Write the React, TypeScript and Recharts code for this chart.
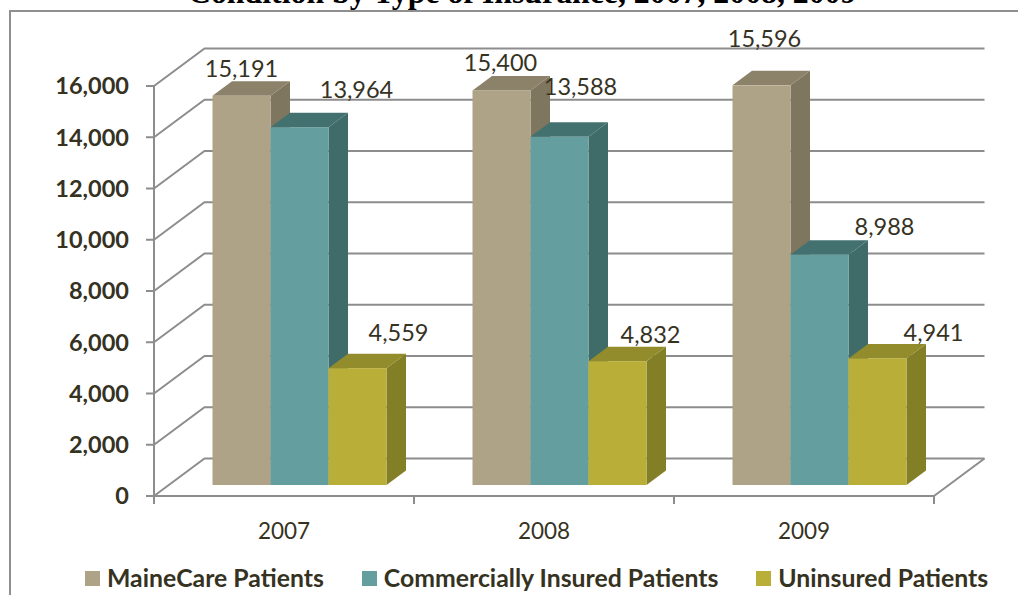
import React from "react";
import { BarChart, Bar, XAxis, YAxis, CartesianGrid, Legend, LabelList } from "recharts";

const years = ["2007", "2008", "2009"];
const maineCare = [15191, 15400, 15596];
const commercial = [13964, 13588, 8988];
const uninsured = [4559, 4832, 4941];
const yTicks = [0, 2000, 4000, 6000, 8000, 10000, 12000, 14000, 16000];

const rows = years.map((year, i) => ({
  year,
  maineCare: maineCare[i],
  commercial: commercial[i],
  uninsured: uninsured[i],
}));

const FONT = "Lato, sans-serif";
const TEXT = "#35321f";
const GRID = "#8d8d8d";
const DEPTH_X = 19.5;
const DEPTH_Y = 14.5;
const FLOOR_DX = 50.5;
const FLOOR_DY = 37.5;
const BAR_SHIFT_X = 15.5;
const BAR_SHIFT_Y = -11;
const BAND = 260;

// label placement relative to each bar's front top-centre
const maineNudge = [[0, -28], [-1, -28], [3, -47]];
const commercialNudge = [[57, -38], [21, -51], [65, -29]];
const uninsuredNudge = [[41, -36], [33, -27], [56, -26]];

const Box3D = (colors: { front: string; side: string; top: string }) => (p: any) => {
  const x = p.x + BAR_SHIFT_X;
  const y = p.y + BAR_SHIFT_Y;
  const w = p.width;
  const b = y + p.height;
  return (
    <g>
      <polygon
        points={`${x + w},${b} ${x + w + DEPTH_X},${b - DEPTH_Y} ${x + w + DEPTH_X},${y - DEPTH_Y} ${x + w},${y}`}
        fill={colors.side}
      />
      <polygon
        points={`${x},${y} ${x + DEPTH_X},${y - DEPTH_Y} ${x + w + DEPTH_X},${y - DEPTH_Y} ${x + w},${y}`}
        fill={colors.top}
      />
      <rect x={x} y={y} width={w} height={p.height} fill={colors.front} />
    </g>
  );
};

const valueLabel = (nudge: number[][]) => (p: any) => {
  const [dx, dy] = nudge[p.index];
  const cx = p.x + p.width / 2 + BAR_SHIFT_X + dx;
  const cy = p.y + BAR_SHIFT_Y + dy;
  return (
    <text x={cx} y={cy} textAnchor="middle" dominantBaseline="central" fontFamily={FONT} fontSize={23.5} fill={TEXT}>
      {Number(p.value).toLocaleString("en-US")}
    </text>
  );
};

const gridLine = (p: any) => {
  const { x1, x2, y1 } = p;
  const isFloor = Math.abs(y1 - 496) < 1;
  const by = y1 - FLOOR_DY;
  return (
    <g key={p.key} stroke={GRID} strokeWidth={2} fill="none">
      <polyline points={`${x1},${y1} ${x1 + FLOOR_DX},${by} ${x2 + FLOOR_DX},${by}`} />
      {isFloor && <line x1={x2 + FLOOR_DX} y1={by} x2={x2} y2={y1} />}
    </g>
  );
};

const XTick = (p: any) => {
  const { x, index, payload } = p;
  const left = x - BAND / 2;
  const top = 496;
  return (
    <g>
      <line x1={left} y1={top} x2={left} y2={top + 8} stroke={GRID} strokeWidth={2} />
      {index === years.length - 1 && (
        <line x1={left + BAND} y1={top} x2={left + BAND} y2={top + 8} stroke={GRID} strokeWidth={2} />
      )}
      <text x={x} y={530} textAnchor="middle" dominantBaseline="central" fontFamily={FONT} fontSize={22.5} fill={TEXT}>
        {payload.value}
      </text>
    </g>
  );
};

const LegendRow = (p: any) => (
  <div
    style={{
      position: "absolute",
      left: 85,
      top: 0,
      display: "flex",
      gap: 38,
      whiteSpace: "nowrap",
      fontFamily: FONT,
      fontWeight: 700,
      fontSize: 24.8,
      lineHeight: "30px",
      color: TEXT,
    }}
  >
    {p.payload.map((item: any) => (
      <div key={item.value} style={{ display: "flex", alignItems: "center", gap: 7 }}>
        <span style={{ width: 15, height: 15, background: item.color, display: "inline-block" }} />
        <span>{item.value}</span>
      </div>
    ))}
  </div>
);

export default function App() {
  return (
    <div style={{ position: "absolute", left: 0, top: 0, width: 1018, height: 595, overflow: "hidden", background: "#fff" }}>
      <div
        style={{
          position: "absolute",
          left: 188,
          top: -22,
          fontFamily: "'Liberation Serif', serif",
          fontWeight: 700,
          fontSize: 31.8,
          lineHeight: "30px",
          color: "#000",
          whiteSpace: "nowrap",
        }}
      >
        Condition by Type of Insurance, 2007, 2008, 2009
      </div>
      <div style={{ position: "absolute", left: 9, top: 10, width: 1009, height: 2, background: "#8f8f8f" }} />
      <div style={{ position: "absolute", left: 9, top: 10, width: 2, height: 585, background: "#8f8f8f" }} />
      <div style={{ position: "absolute", left: 0, top: 0 }}>
        <BarChart
          width={1018}
          height={595}
          data={rows}
          margin={{ top: 86, right: 84, bottom: 59, left: 74 }}
          barCategoryGap={43}
          barGap={0}
        >
          <CartesianGrid horizontal={gridLine} vertical={false} />
          <XAxis
            dataKey="year"
            height={40}
            axisLine={{ stroke: GRID, strokeWidth: 2 }}
            tickLine={false}
            tick={<XTick />}
            interval={0}
          />
          <YAxis
            width={80}
            domain={[0, 16000]}
            ticks={yTicks}
            interval={0}
            axisLine={{ stroke: GRID, strokeWidth: 2 }}
            tickLine={{ stroke: GRID, strokeWidth: 2 }}
            tickSize={8}
            tickMargin={17}
            tickFormatter={(v: number) => v.toLocaleString("en-US")}
            tick={{ fontFamily: FONT, fontWeight: 700, fontSize: 23.5, fill: TEXT }}
          />
          <Legend
            layout="horizontal"
            verticalAlign="middle"
            align="center"
            itemSorter={null}
            wrapperStyle={{ top: 563, left: 0, width: 1018, height: 30 }}
            content={<LegendRow />}
          />
          <Bar
            dataKey="maineCare"
            name="MaineCare Patients"
            fill="#AEA386"
            isAnimationActive={false}
            shape={Box3D({ front: "#AEA386", side: "#7E765F", top: "#8C826A" })}
          >
            <LabelList dataKey="maineCare" content={valueLabel(maineNudge)} />
          </Bar>
          <Bar
            dataKey="commercial"
            name="Commercially Insured Patients"
            fill="#659E9E"
            isAnimationActive={false}
            shape={Box3D({ front: "#659E9E", side: "#3F6B69", top: "#43716F" })}
          >
            <LabelList dataKey="commercial" content={valueLabel(commercialNudge)} />
          </Bar>
          <Bar
            dataKey="uninsured"
            name="Uninsured Patients"
            fill="#B9AF38"
            isAnimationActive={false}
            shape={Box3D({ front: "#B9AF38", side: "#837F27", top: "#928C2C" })}
          >
            <LabelList dataKey="uninsured" content={valueLabel(uninsuredNudge)} />
          </Bar>
        </BarChart>
      </div>
    </div>
  );
}
